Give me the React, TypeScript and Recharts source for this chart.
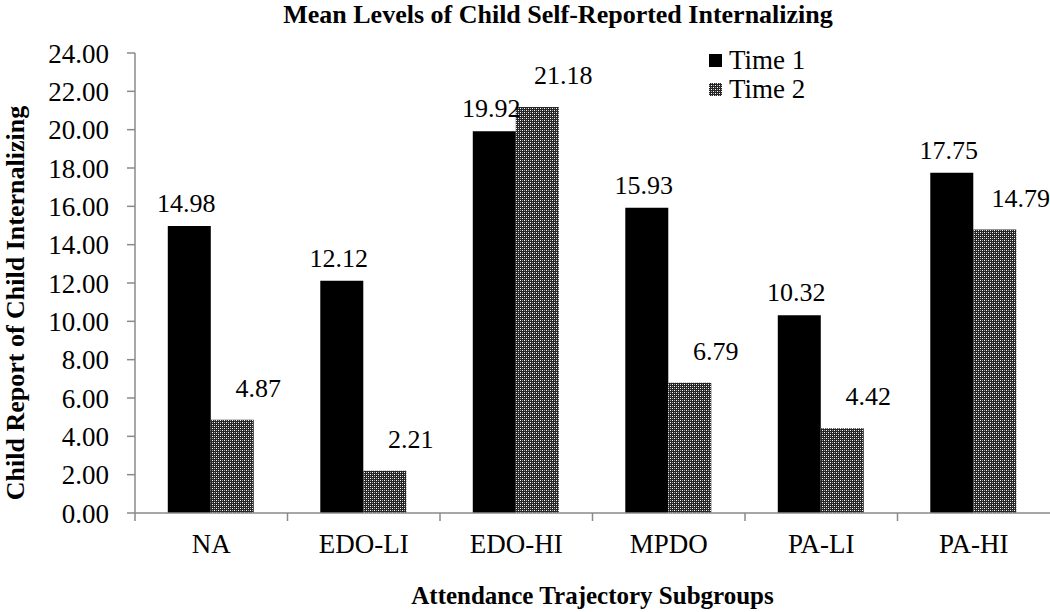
import { Bar, BarChart, LabelList, Legend, XAxis, YAxis } from "recharts";

const categories = ["NA", "EDO-LI", "EDO-HI", "MPDO", "PA-LI", "PA-HI"];
const time1 = [14.98, 12.12, 19.92, 15.93, 10.32, 17.75];
const time2 = [4.87, 2.21, 21.18, 6.79, 4.42, 14.79];
const yTicks = [0, 2, 4, 6, 8, 10, 12, 14, 16, 18, 20, 22, 24];

const data = categories.map((name, i) => ({ name, t1: time1[i], t2: time2[i] }));

// "Times New Roman" resolves to a sans face here, so name Liberation Serif alone
const FONT = "Liberation Serif";
const AXIS = "#8a8a8a";

// Excel-ish value labels: Time 1 sits over its bar, Time 2 is nudged up and right
const valueLabel = (dx: number, lift: number) => (props: any) => {
  const { x, y, width, value } = props;
  return (
    <text
      x={Number(x) + Number(width) / 2 + dx}
      y={Number(y) - lift}
      textAnchor="middle"
      fontFamily={FONT}
      fontSize={26}
      fill="#000"
    >
      {Number(value).toFixed(2)}
    </text>
  );
};

// category label plus the boundary tick Excel draws between groups
const CategoryTick = (props: any) => {
  const { x, y, payload } = props;
  const half = payload?.offset ?? 0;
  return (
    <g>
      <line x1={x - half} y1={y - 8} x2={x - half} y2={y} stroke={AXIS} strokeWidth={1.5} />
      <text x={x} y={y + 32} textAnchor="middle" fontFamily={FONT} fontSize={27} fill="#000">
        {payload.value}
      </text>
    </g>
  );
};

const CheckPattern = ({ id }: { id: string }) => (
  <pattern id={id} width={4} height={4} patternUnits="userSpaceOnUse">
    <rect width={4} height={4} fill="#262626" />
    <rect x={0} y={0} width={1} height={1} fill="#fff" />
    <rect x={2} y={2} width={1} height={1} fill="#fff" />
    <rect x={2} y={0} width={1} height={1} fill="#a0a0a0" />
    <rect x={0} y={2} width={1} height={1} fill="#a0a0a0" />
  </pattern>
);

const Swatch = ({ fill, id }: { fill: string; id?: string }) => (
  <svg width={14} height={14} style={{ marginRight: 6 }}>
    {id && (
      <defs>
        <CheckPattern id={id} />
      </defs>
    )}
    <rect width={13} height={13} fill={fill} />
  </svg>
);

const LegendBox = () => (
  <div style={{ fontFamily: FONT, fontSize: 27, lineHeight: "29px", color: "#000" }}>
    <div style={{ display: "flex", alignItems: "center" }}>
      <Swatch fill="#000" />
      Time 1
    </div>
    <div style={{ display: "flex", alignItems: "center" }}>
      <Swatch fill="url(#checkLegend)" id="checkLegend" />
      Time 2
    </div>
  </div>
);

export default function App() {
  return (
    <div style={{ position: "relative", width: 1050, height: 612, background: "#fff" }}>
      <style>{"body{margin:0}"}</style>
      <div
        style={{
          position: "absolute",
          top: 0,
          left: 0,
          width: 1116,
          textAlign: "center",
          fontFamily: FONT,
          fontWeight: "bold",
          fontSize: 26,
          lineHeight: "30px",
        }}
      >
        Mean Levels of Child Self-Reported Internalizing
      </div>
      <BarChart
        width={1050}
        height={612}
        data={data}
        margin={{ top: 53, right: 0, bottom: 0, left: 0 }}
        barCategoryGap="21.5%"
        barGap={0}
      >
        <defs>
          <CheckPattern id="check" />
        </defs>
        <XAxis
          dataKey="name"
          height={99}
          axisLine={{ stroke: AXIS, strokeWidth: 1.5 }}
          tickLine={false}
          tick={<CategoryTick />}
          interval={0}
          label={{
            value: "Attendance Trajectory  Subgroups",
            position: "insideBottom",
            offset: 8,
            style: { fontFamily: FONT, fontWeight: "bold", fontSize: 25, fill: "#000", whiteSpace: "pre" },
          }}
        />
        <YAxis
          width={135}
          domain={[0, 24]}
          ticks={yTicks}
          interval={0}
          tickFormatter={(v: number) => v.toFixed(2)}
          axisLine={{ stroke: AXIS, strokeWidth: 1.5 }}
          tickLine={{ stroke: AXIS, strokeWidth: 1.5 }}
          tickSize={8}
          tickMargin={18}
          tick={{ fontFamily: FONT, fontSize: 27, fill: "#000" }}
          label={{
            value: "Child Report of Child Internalizing",
            angle: -90,
            position: "insideLeft",
            offset: 15,
            dy: 20,
            style: { textAnchor: "middle", fontFamily: FONT, fontWeight: "bold", fontSize: 26, fill: "#000" },
          }}
        />
        <Legend
          layout="horizontal"
          verticalAlign="middle"
          align="center"
          content={<LegendBox />}
          wrapperStyle={{ top: 46, left: 709, width: 140 }}
        />
        <Bar dataKey="t1" name="Time 1" fill="#000" isAnimationActive={false}>
          <LabelList dataKey="t1" content={valueLabel(-3, 14)} />
        </Bar>
        <Bar dataKey="t2" name="Time 2" fill="url(#check)" isAnimationActive={false}>
          <LabelList dataKey="t2" content={valueLabel(26, 23)} />
        </Bar>
      </BarChart>
    </div>
  );
}
